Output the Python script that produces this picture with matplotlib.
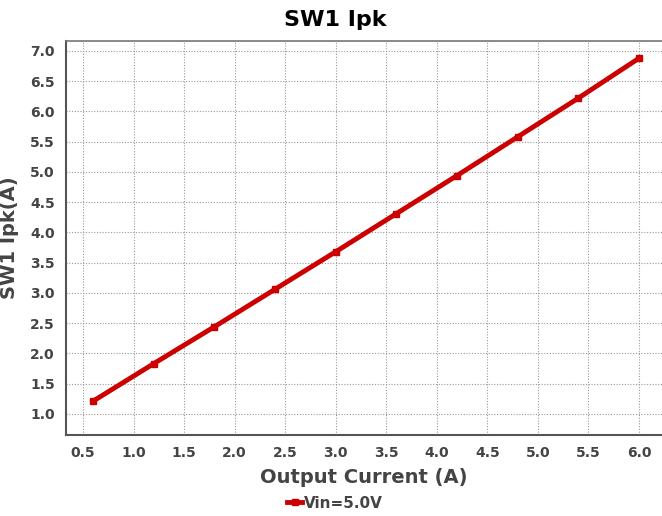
import matplotlib.pyplot as plt

plt.rcParams['font.family'] = ['DejaVu Sans']

# data
current = [0.6, 1.2, 1.8, 2.4, 3.0, 3.6, 4.2, 4.8, 5.4, 6.0]
ipk = [1.21, 1.83, 2.44, 3.06, 3.68, 4.31, 4.94, 5.58, 6.22, 6.88]
xticks = [0.5, 1.0, 1.5, 2.0, 2.5, 3.0, 3.5, 4.0, 4.5, 5.0, 5.5, 6.0]
yticks = [1.0, 1.5, 2.0, 2.5, 3.0, 3.5, 4.0, 4.5, 5.0, 5.5, 6.0, 6.5, 7.0]

fig = plt.figure(figsize=(6.62, 5.16), dpi=100)
ax = fig.add_axes([0.0997, 0.157, 0.9003, 0.7635])

ax.plot(current, ipk, color='#cc0000', lw=3.5, marker='s', ms=5, label='Vin=5.0V')

ax.set_xlim(0.332, 6.228)
ax.set_ylim(0.65, 7.165)
ax.set_xticks(xticks)
ax.set_yticks(yticks)
ax.set_xticklabels([f"{v:.1f}" for v in xticks])
ax.set_yticklabels([f"{v:.1f}" for v in yticks])
ax.tick_params(length=0, pad=8, labelsize=10, labelcolor='#444444')
for lbl in ax.get_xticklabels() + ax.get_yticklabels():
    lbl.set_fontweight('bold')

ax.grid(True, color='#999999', ls=(0, (1, 1.5)), lw=0.8)
for s in ['left', 'bottom']:
    ax.spines[s].set_color('#555555')
    ax.spines[s].set_linewidth(1.5)
ax.spines['top'].set_color('#777777')
ax.spines['top'].set_linewidth(1.2)
ax.spines['right'].set_visible(False)

ax.set_xlabel('Output Current (A)', fontsize=14, fontweight='bold', color='#444444', labelpad=6)
ax.set_ylabel('SW1 Ipk(A)', fontsize=14, fontweight='bold', color='#444444', labelpad=8)
fig.text(0.506, 0.961, 'SW1 Ipk', ha='center', va='center', fontsize=16, fontweight='bold')

leg = fig.legend(loc='center', bbox_to_anchor=(0.506, 0.025), frameon=False,
                 handlelength=1.0, handletextpad=0.1, prop={'weight': 'bold', 'size': 11})
for t in leg.get_texts():
    t.set_color('#444444')

fig.savefig('out.png', dpi=100)
